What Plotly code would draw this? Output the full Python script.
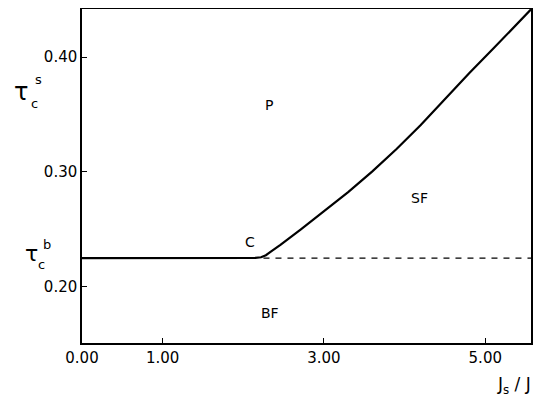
import plotly.graph_objects as go

# phase boundary tau_c^s vs Js/J
js_ratio = [0.00, 1.00, 2.00, 2.15, 2.22, 2.28, 2.35, 2.46, 2.71, 3.00, 3.30, 3.60,
            3.90, 4.20, 4.50, 4.80, 5.10, 5.35, 5.567]
tau_s = [0.225, 0.225, 0.225, 0.2251, 0.2257, 0.2275, 0.2310, 0.2365, 0.2498, 0.2655,
         0.2825, 0.3005, 0.3200, 0.3410, 0.3635, 0.3860, 0.4075, 0.4255, 0.4417]
# bulk critical value (dashed)
tau_b = 0.225
dash_x = [2.25, 5.567]

x_ticks = [0, 1, 3, 5]
x_tick_labels = ["0.00", "1.00", "3.00", "5.00"]
y_ticks = [0.20, 0.30, 0.40]
y_tick_labels = ["0.20", "0.30", "0.40"]

region_labels = ["P", "SF", "C", "BF"]
region_x = [2.32, 4.18, 2.087, 2.334]
region_y = [0.358, 0.2774, 0.2391, 0.1774]

FONT = "DejaVu Sans"
OFF = 8  # default page body margin
W, H = 553 - OFF, 401 - OFF
# desired plot area in window pixels: left 81.5, right 531, top 9, bottom 343
ML, MR, MT, MB = 81.5 - OFF, W - (531 - OFF), 9 - OFF, H - (343 - OFF)

fig = go.Figure()
fig.add_trace(go.Scatter(x=js_ratio, y=tau_s, mode="lines",
                         line=dict(color="black", width=2.2),
                         showlegend=False, hoverinfo="skip"))
fig.add_trace(go.Scatter(x=dash_x, y=[tau_b, tau_b], mode="lines",
                         line=dict(color="black", width=1.2, dash="6px,6px"),
                         showlegend=False, hoverinfo="skip"))

for t, xx, yy in zip(region_labels, region_x, region_y):
    fig.add_annotation(x=xx, y=yy, xref="x", yref="y", text=t, showarrow=False,
                       font=dict(family=FONT, size=14, color="black"))

# positions in window pixels (as in the reference)
paper_ann = [
    ("τ", 20, 92, 24), ("s", 38, 79, 13), ("c", 34, 103, 13),
    ("τ", 31, 254, 22), ("b", 46, 244, 13), ("c", 41, 264, 13),
    ("J<sub>s</sub> / J", 514, 385, 17),
]
pl, pr, pt, pb = ML, W - MR, MT, H - MB
for t, px, py, sz in paper_ann:
    fx, fy = px - OFF, py - OFF
    fig.add_annotation(x=(fx - pl) / (pr - pl), y=(pb - fy) / (pb - pt),
                       xref="paper", yref="paper", text=t,
                       showarrow=False, xanchor="center", yanchor="middle",
                       font=dict(family=FONT, size=sz, color="black"))

fig.update_layout(
    width=W, height=H,
    margin=dict(l=ML, r=MR, t=MT, b=MB, pad=0, autoexpand=False),
    plot_bgcolor="white", paper_bgcolor="white",
    font=dict(family=FONT, size=15, color="black"),
    xaxis=dict(range=[0, 5.567], tickvals=x_ticks, ticktext=x_tick_labels,
               ticks="inside", ticklen=5, tickcolor="black", showgrid=False,
               zeroline=False, showline=True, linecolor="black", linewidth=1.5,
               mirror=True, tickfont=dict(size=15), automargin=False,
               ticklabelstandoff=0),
    yaxis=dict(range=[0.151, 0.442], tickvals=y_ticks, ticktext=y_tick_labels,
               ticks="inside", ticklen=5, tickcolor="black", showgrid=False,
               zeroline=False, showline=True, linecolor="black", linewidth=1.5,
               mirror=True, tickfont=dict(size=15), automargin=False),
)

fig.write_html("out.html")
